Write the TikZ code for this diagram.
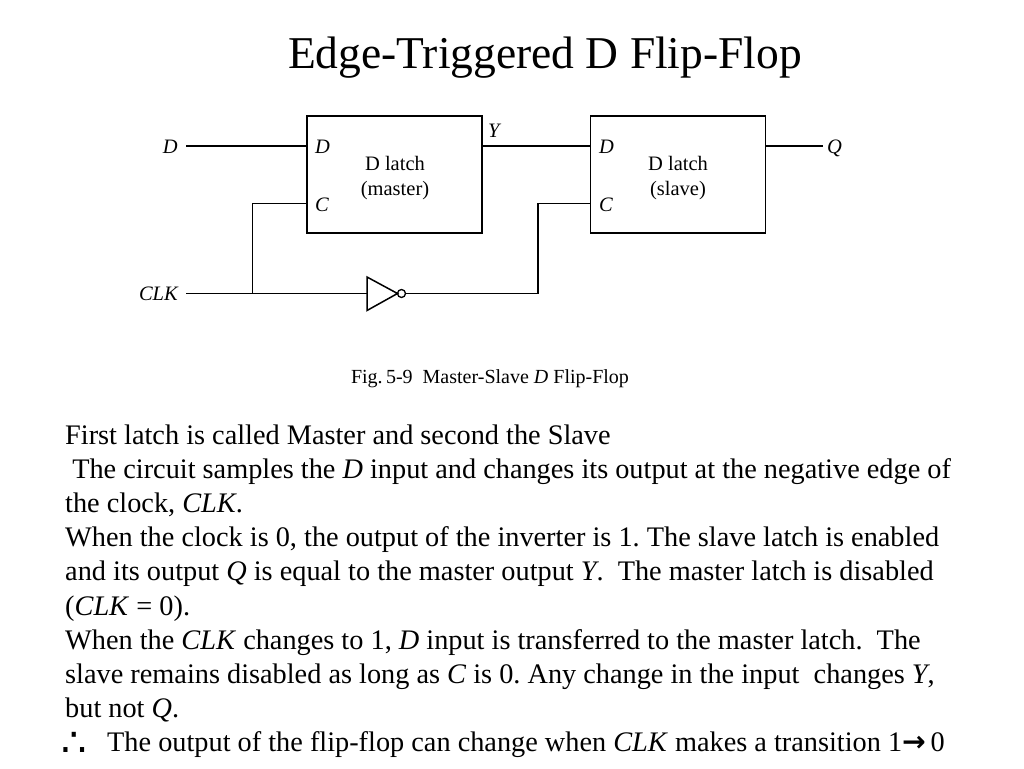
\documentclass[tikz,border=0pt]{standalone}
\usepackage{fontspec}
\setmainfont{Liberation Serif}
\newfontfamily\symfont{DejaVu Sans}
\frenchspacing
\begin{document}
\begin{tikzpicture}[x=1pt,y=-1pt,
  wire/.style={line width=1.3pt, line cap=rect},
  latchbox/.style={draw, line width=1.7pt, minimum width=175pt, minimum height=117pt, inner sep=0pt},
  lbl/.style={font=\fontsize{20.5}{25}\selectfont, inner sep=0pt},
  pin/.style={font=\fontsize{20.5}{25}\selectfont\itshape, inner sep=0pt, anchor=base west},
  body/.style={font=\fontsize{28.3}{33}\selectfont, inner sep=0pt, anchor=base west}]
\useasboundingbox (0,0) rectangle (1024,768);
\fill[white] (0,0) rectangle (1024,768);

% title
\node[font=\fontsize{45.5}{52}\selectfont, inner sep=0pt, anchor=base] (title) at (545,68) {Edge-Triggered D Flip-Flop};

% latches
\node[latchbox] (m) at (394.5,174.5) {};
\node[latchbox] (s) at (678,174.5) {};
\node[lbl, align=center] (mtxt) at (395,178) {D latch\\(master)};
\node[lbl, align=center] (stxt) at (678,178) {D latch\\(slave)};
\node[pin] (mD) at (315,153) {D};
\node[pin] (mC) at (315,211) {C};
\node[pin] (sD) at (599,153) {D};
\node[pin] (sC) at (599,211) {C};

% inputs / outputs
\node[lbl, font=\fontsize{20.5}{25}\selectfont\itshape, anchor=base east] (Dlab) at (178,153) {D};
\node[lbl, font=\fontsize{20.5}{25}\selectfont\itshape, anchor=base east] (CLKlab) at (178,300.5) {CLK};
\node[lbl, font=\fontsize{20.5}{25}\selectfont\itshape, anchor=base west] (Ylab) at (488,137) {Y};
\node[lbl, font=\fontsize{20.5}{25}\selectfont\itshape, anchor=base west] (Qlab) at (827,153) {Q};

\coordinate (din) at (187,146);
\coordinate (clkin) at (187,293.5);
\coordinate (j1) at (252.5,293.5);
\coordinate (invin) at (367,293.5);
\coordinate (j2) at (538,293.5);
\coordinate (qout) at (822,146);
\coordinate (mcpin) at (m.west |- 0,203.5);
\coordinate (scpin) at (s.west |- 0,203.5);

% inverter
\draw[line width=1.5pt, line join=miter] (367,277) -- (397.5,293.5) -- (367,310.5) -- cycle;
\node[circle, draw, line width=1.3pt, minimum size=8pt, inner sep=0pt] (bub) at (401.5,293.5) {};

\draw[wire] (din) -- (m.west |- din);
\draw[wire] (m.east |- din) -- (s.west |- din);
\draw[wire] (s.east |- din) -- (qout);
\draw[wire] (clkin) -- (invin);
\draw[wire] (j1) |- (mcpin);
\draw[wire] (bub.east) -- (j2) |- (scpin);

% caption
\node[font=\fontsize{20}{24}\selectfont, inner sep=0pt, anchor=base] (cap) at (490,383) {Fig.\,5-9\ \ Master-Slave \textit{D} Flip-Flop};

% body text
\node[body] (t1) at (65,444.5) {First latch is called Master and second the Slave};
\node[body] (t2) at (65,478.6) {\ The circuit samples the \textit{D} input and changes its output at the negative edge of};
\node[body] (t3) at (65,512.7) {the clock, \textit{CLK}.};
\node[body] (t4) at (65,546.8) {When the clock is 0, the output of the inverter is 1. The slave latch is enabled};
\node[body] (t5) at (65,580.9) {and its output \textit{Q} is equal to the master output \textit{Y}.\ \ The master latch is disabled};
\node[body] (t6) at (65,615) {(\textit{CLK} = 0).};
\node[body] (t7) at (65,649.1) {When the \textit{CLK} changes to 1, \textit{D} input is transferred to the master latch.\ \ The};
\node[body] (t8) at (65,683.2) {slave remains disabled as long as \textit{C} is 0. Any change in the input\ \ changes \textit{Y},};
\node[body] (t9) at (65,717.3) {but not \textit{Q}.};
\node[body, font=\fontsize{40}{44}\symfont] (there) at (61,756) {∴};
\node[body] (t10) at (107,751.4) {The output of the flip-flop can change when \textit{CLK} makes a transition 1{\symfont\bfseries →}\,0};
\end{tikzpicture}
\end{document}
